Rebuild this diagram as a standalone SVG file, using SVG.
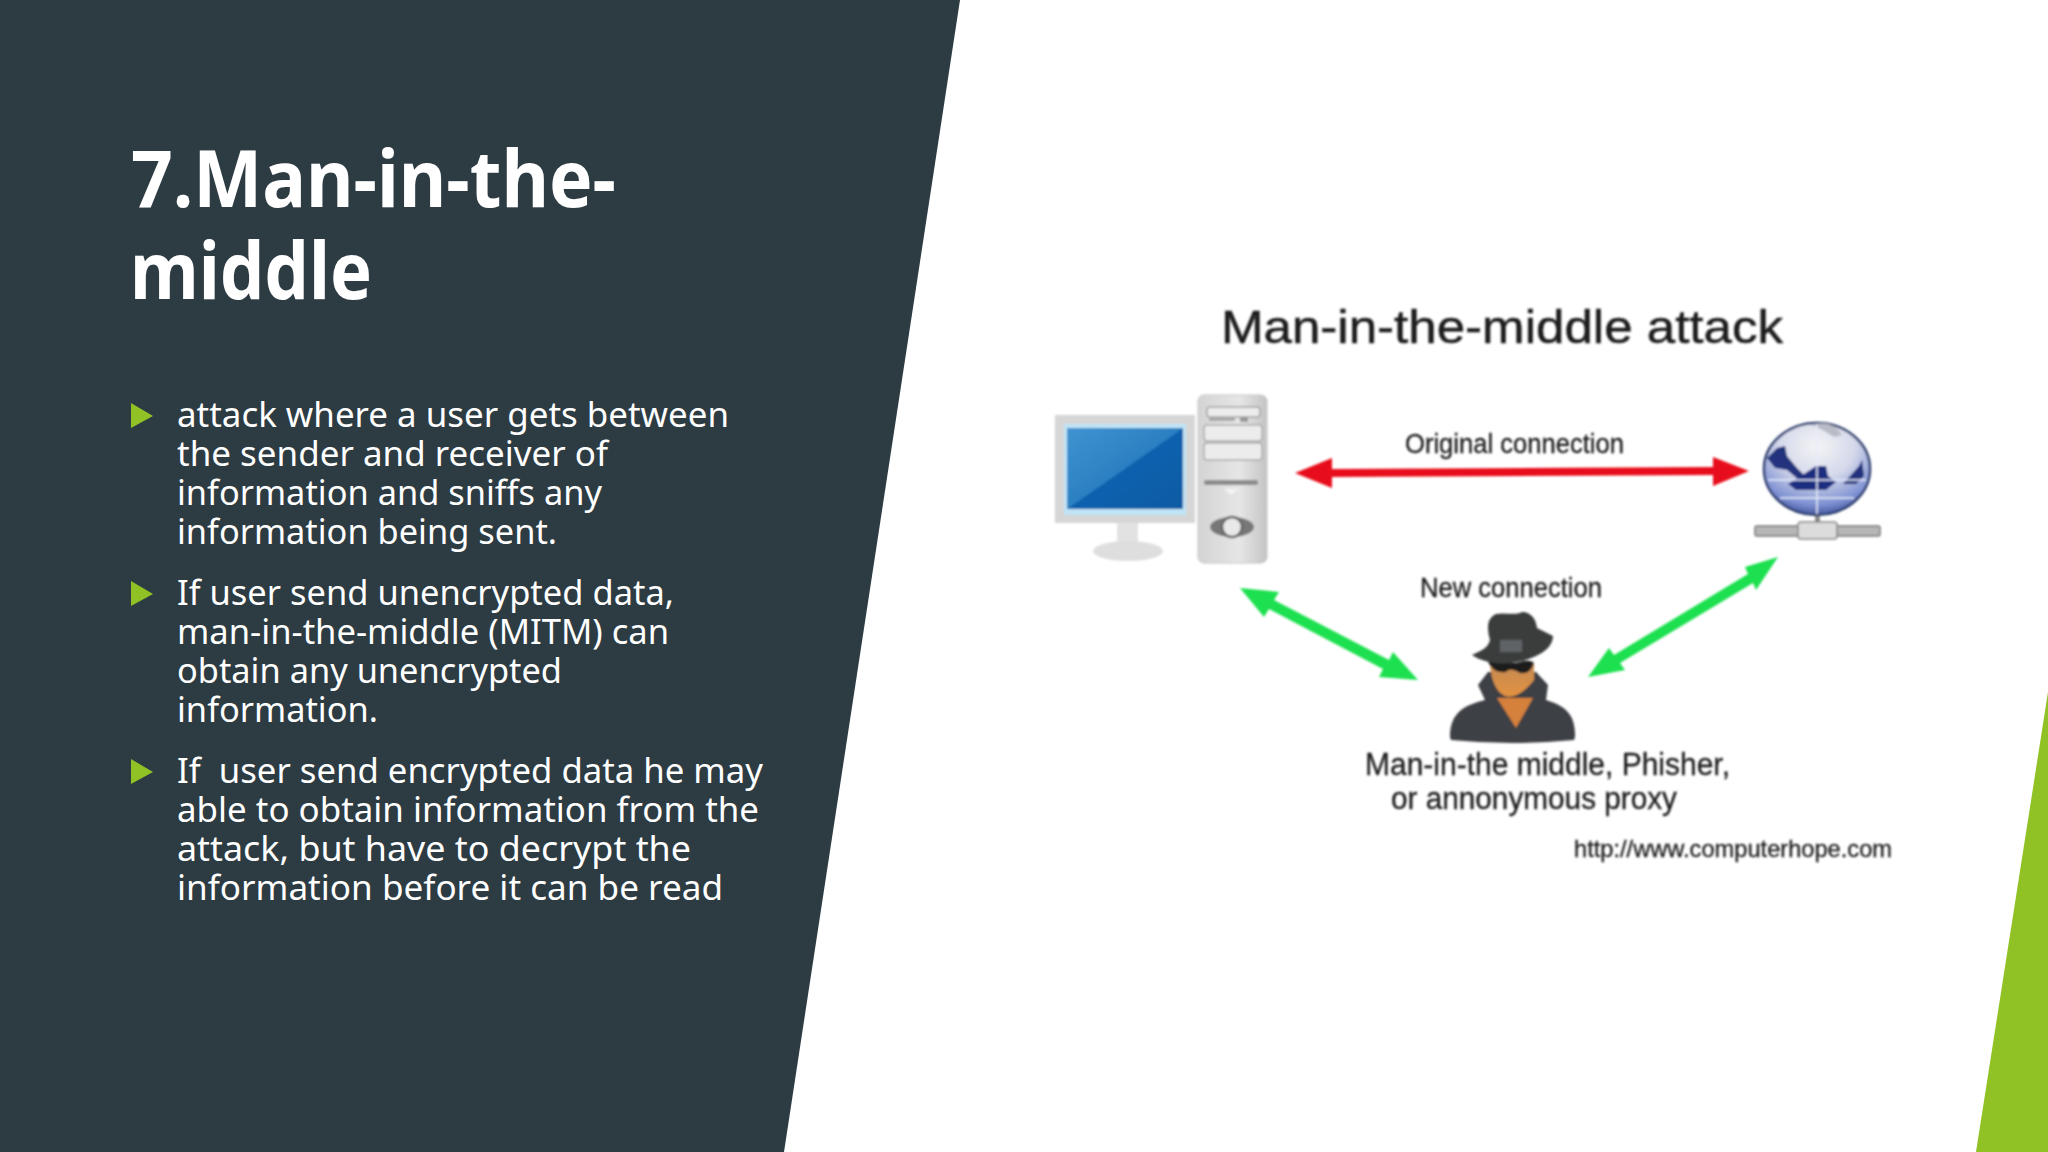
<svg xmlns="http://www.w3.org/2000/svg" width="2048" height="1152" viewBox="0 0 2048 1152">
<style>
.title{font:700 78px "Noto Sans","Open Sans",sans-serif;fill:#fff}
.body{font:400 34px "Noto Sans","Open Sans",sans-serif;fill:#fff}
.lab{font-family:"Liberation Sans",Arial,sans-serif;fill:#1c1c1c}
.red{fill:#e8101a}
.green{fill:#1fe04f}
.bullet{fill:#90c226}
</style>
<defs>
<filter id="soft" x="-5%" y="-5%" width="110%" height="110%"><feGaussianBlur stdDeviation="0.8"/></filter>
<filter id="soft2" x="-10%" y="-10%" width="120%" height="120%"><feGaussianBlur stdDeviation="1.2"/></filter>
<linearGradient id="scr" x1="0" y1="0" x2="1" y2="1"><stop offset="0" stop-color="#3f93d0"/><stop offset="0.5" stop-color="#2b80c2"/><stop offset="0.5" stop-color="#0b62ae"/><stop offset="1" stop-color="#0a5aa3"/></linearGradient>
<linearGradient id="tower" x1="0" y1="0" x2="1" y2="0"><stop offset="0" stop-color="#d4d4d4"/><stop offset="0.6" stop-color="#e6e6e6"/><stop offset="1" stop-color="#c4c4c4"/></linearGradient>
<radialGradient id="globe" cx="0.5" cy="0.25" r="0.8"><stop offset="0" stop-color="#f4f4f6"/><stop offset="0.45" stop-color="#d4d8ea"/><stop offset="0.8" stop-color="#7d90d2"/><stop offset="1" stop-color="#2c3f86"/></radialGradient>
<linearGradient id="face" x1="0" y1="0" x2="0" y2="1"><stop offset="0" stop-color="#c48a55"/><stop offset="1" stop-color="#e3923f"/></linearGradient>
</defs>
<rect id="background" width="2048" height="1152" fill="#fff"/>
<polygon id="panel" points="0,0 960,0 784,1152 0,1152" fill="#2d3b43"/>
<polygon id="corner" points="2048,692 2048,1152 1976,1152" fill="#90c226"/>
<g id="heading">
<text class="title" x="131" y="207" textLength="485" lengthAdjust="spacingAndGlyphs">7.Man-in-the-</text>
<text class="title" x="130" y="299" textLength="242" lengthAdjust="spacingAndGlyphs">middle</text>
</g>
<g id="bullets">
<polygon class="bullet" points="131,403 153,416 131,428"/>
<polygon class="bullet" points="131,581 153,594 131,606"/>
<polygon class="bullet" points="131,759 153,772 131,784"/>
<text class="body" x="177" y="427" textLength="552" lengthAdjust="spacingAndGlyphs">attack where a user gets between</text>
<text class="body" x="177" y="466" textLength="431" lengthAdjust="spacingAndGlyphs">the sender and receiver of</text>
<text class="body" x="177" y="505" textLength="425" lengthAdjust="spacingAndGlyphs">information and sniffs any</text>
<text class="body" x="177" y="544" textLength="380" lengthAdjust="spacingAndGlyphs">information being sent.</text>
<text class="body" x="177" y="605" textLength="497" lengthAdjust="spacingAndGlyphs">If user send unencrypted data,</text>
<text class="body" x="177" y="644" textLength="492" lengthAdjust="spacingAndGlyphs">man-in-the-middle (MITM) can</text>
<text class="body" x="177" y="683" textLength="385" lengthAdjust="spacingAndGlyphs">obtain any unencrypted</text>
<text class="body" x="177" y="722" textLength="201" lengthAdjust="spacingAndGlyphs">information.</text>
<text class="body" x="177" y="783" textLength="586" lengthAdjust="spacingAndGlyphs" xml:space="preserve">If  user send encrypted data he may</text>
<text class="body" x="177" y="822" textLength="582" lengthAdjust="spacingAndGlyphs">able to obtain information from the</text>
<text class="body" x="177" y="861" textLength="514" lengthAdjust="spacingAndGlyphs">attack, but have to decrypt the</text>
<text class="body" x="177" y="900" textLength="546" lengthAdjust="spacingAndGlyphs">information before it can be read</text>
</g>
<g id="connectors" filter="url(#soft)">
<polygon id="red-link" class="red" points="1295,473 1332,458 1332,469 1713,467 1713,457 1749,471 1713,486 1713,475 1332,477 1332,488"/>
<polygon id="green-left" class="green" points="1240,588 1279,592 1274,600 1389,660 1393,652 1418,680 1379,677 1383,669 1269,609 1264,617"/>
<polygon id="green-right" class="green" points="1588,677 1609,648 1614,655 1748,574 1745,567 1778,557 1756,590 1753,583 1620,663 1625,670"/>
</g>
<g id="computer" filter="url(#soft)">
<rect x="1117" y="520" width="21" height="26" fill="#e2e2e2"/>
<ellipse cx="1128" cy="551" rx="35" ry="10" fill="#dedede"/>
<rect x="1055" y="415" width="140" height="108" fill="#d6d6d6"/>
<rect x="1064" y="424" width="122" height="91" fill="#bfe4f7"/>
<rect x="1067" y="428" width="116" height="81" fill="url(#scr)"/>
<rect x="1198" y="395" width="69" height="168" rx="6" fill="url(#tower)" stroke="#c6c6c6"/>
<rect x="1207" y="407" width="53" height="10" rx="3" fill="#ececec" stroke="#a4a4a4" stroke-width="1.5"/>
<rect x="1209" y="418" width="26" height="3" fill="#a8a8a8"/>
<rect x="1240" y="417" width="8" height="5" fill="#999"/>
<rect x="1204" y="425" width="58" height="16" rx="3" fill="#ececec" stroke="#aaa" stroke-width="1.5"/>
<rect x="1204" y="443" width="58" height="17" rx="3" fill="#ececec" stroke="#aaa" stroke-width="1.5"/>
<rect x="1204" y="480" width="54" height="5" rx="2" fill="#8c8c8c"/>
<path d="M1224 489 h14 l-7 6 z" fill="#f4f4f4"/>
<ellipse cx="1232" cy="527" rx="22" ry="10" fill="#777"/>
<circle cx="1232" cy="527" r="10" fill="#e8e8e8" stroke="#666" stroke-width="2.5"/>
</g>
<g id="server" filter="url(#soft2)">
<rect x="1815" y="512" width="5" height="14" fill="#888"/>
<rect x="1755" y="526" width="125" height="10" rx="2" fill="#b6b6b6" stroke="#777" stroke-width="1.5"/>
<rect x="1798" y="522" width="39" height="17" rx="3" fill="#dcdcdc" stroke="#888" stroke-width="1.5"/>
<ellipse cx="1817" cy="469" rx="53" ry="46" fill="url(#globe)" stroke="#2e3f70" stroke-width="2.5"/>
<path d="M1767 458 l10 -10 8 -2 2 10 10 12 8 8 -6 4 -12 -10 -12 -2 z" fill="#22337c"/>
<path d="M1788 484 l16 -10 12 -8 h10 l2 10 8 6 -10 8 h-30 z" fill="#1f2f80"/>
<path d="M1843 484 l16 -18 3 -6 2 16 -8 8 z" fill="#22337c"/>
<path d="M1812 425 q20 -6 30 10 l-8 2 q-12 -8 -22 -12z" fill="#b9bcc6"/>
<path d="M1768 480 h98 M1780 498 h74 M1817 424 v90" stroke="#e6ebfa" stroke-width="1.5" fill="none"/>
</g>
<g id="attacker" filter="url(#soft)">
<path d="M1450 737 C1450 712 1465 705 1485 700 L1478 685 L1488 672 L1536 672 L1548 685 L1546 700 C1562 705 1576 712 1575 737 L1574 740 Q1512 746 1451 740 Z" fill="#3e4144"/>
<path d="M1490 664 L1534 664 L1534 680 Q1518 700 1505 696 Q1492 690 1490 664 Z" fill="url(#face)"/>
<path d="M1497 698 L1533 698 L1516 728 Z" fill="#d5813a"/>
<path d="M1488 662 q12 -4 20 0 q6 2 12 0 q10 -3 14 1 q-4 12 -14 10 q-10 -6 -14 -1 q-12 2 -18 -10z" fill="#1a1a1a"/>
<path d="M1472 655 C1482 650 1488 648 1490 640 C1486 625 1488 618 1496 614 C1505 612 1515 616 1522 612 C1530 612 1536 618 1537 628 L1553 636 C1553 645 1545 652 1536 656 C1515 666 1488 666 1472 655 Z" fill="#3a3c3e"/>
<rect x="1500" y="640" width="22" height="12" fill="#5f6465"/>
</g>
<g id="labels" filter="url(#soft)">
<text class="lab" x="1221" y="343" font-size="47" stroke="#1c1c1c" stroke-width="0.5" textLength="562" lengthAdjust="spacingAndGlyphs">Man-in-the-middle attack</text>
<text class="lab" x="1405" y="453" font-size="27" stroke="#1c1c1c" stroke-width="0.3" textLength="219" lengthAdjust="spacingAndGlyphs">Original connection</text>
<text class="lab" x="1420" y="597" font-size="27" stroke="#1c1c1c" stroke-width="0.3" textLength="182" lengthAdjust="spacingAndGlyphs">New connection</text>
<text class="lab" x="1365" y="775" font-size="31" stroke="#1c1c1c" stroke-width="0.3" textLength="365" lengthAdjust="spacingAndGlyphs">Man-in-the middle, Phisher,</text>
<text class="lab" x="1391" y="809" font-size="31" stroke="#1c1c1c" stroke-width="0.3" textLength="286" lengthAdjust="spacingAndGlyphs">or annonymous proxy</text>
<text class="lab" x="1574" y="857" font-size="24" stroke="#1c1c1c" stroke-width="0.3" textLength="318" lengthAdjust="spacingAndGlyphs">http://www.computerhope.com</text>
</g>
</svg>
